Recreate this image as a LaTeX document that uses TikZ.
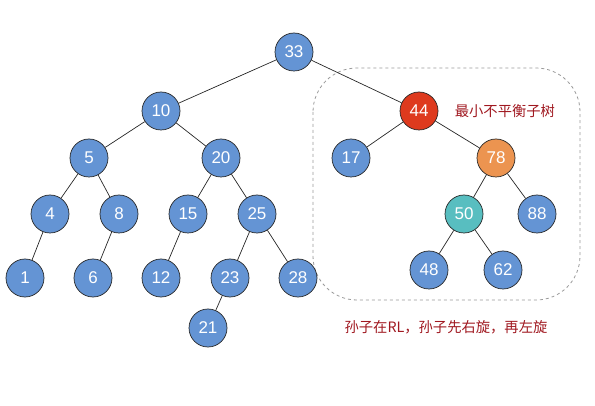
\documentclass[tikz,border=0pt]{standalone}
\usepackage{fontspec}
\setmainfont{Liberation Sans}
\newfontfamily\cjk{Noto Sans CJK SC}
\usetikzlibrary{positioning}
\definecolor{treeblue}{RGB}{100,148,212}
\definecolor{treered}{RGB}{222,58,30}
\definecolor{treeorange}{RGB}{236,148,80}
\definecolor{treeteal}{RGB}{88,190,192}
\definecolor{notered}{RGB}{160,24,32}

\begin{document}
\begin{tikzpicture}[x=1pt, y=-1pt,
  tnode/.style={circle, draw=black!85, line width=0.7pt, fill=treeblue, text=white,
    minimum size=38pt, inner sep=0pt, font=\fontsize{17}{17}\selectfont},
  edge/.style={draw=black!85, line width=0.7pt},
  note/.style={text=notered, font=\cjk\fontsize{14.3}{15}\selectfont}]
\useasboundingbox (0,0) rectangle (595,406);
% Subtree frame
\draw[gray!80, dashed, line width=0.8pt, rounded corners=44pt] (313,68) rectangle (580,300);
% Nodes
\foreach \name/\x/\y in {33/294/52, 10/161/111, 5/89/158, 20/221/158, 17/351/158,
  4/50/214, 8/119/214, 15/188/214, 25/257/214, 88/537/214,
  1/25/278, 6/93/278, 12/161/278, 23/230/278, 28/298/278,
  48/429/270, 62/503/270, 21/208/328}
  {\node[tnode] (n\name) at (\x,\y) {\name};}
\node[tnode, fill=treered] (n44) at (419,111) {44};
\node[tnode, fill=treeorange] (n78) at (496,158) {78};
\node[tnode, fill=treeteal] (n50) at (464,214) {50};
% Edges
\foreach \a/\b in {33/10, 33/44, 10/5, 10/20, 5/4, 5/8, 4/1, 8/6,
  20/15, 20/25, 15/12, 25/23, 25/28, 23/21,
  44/17, 44/78, 78/50, 78/88, 50/48, 50/62}
  {\draw[edge] (n\a) -- (n\b);}
% Labels
\node[note, right=13pt of n44] (lbl) {最小不平衡子树};
\node[note] (rule) at (446,327) {孙子在RL，孙子先右旋，再左旋};
\end{tikzpicture}
\end{document}
